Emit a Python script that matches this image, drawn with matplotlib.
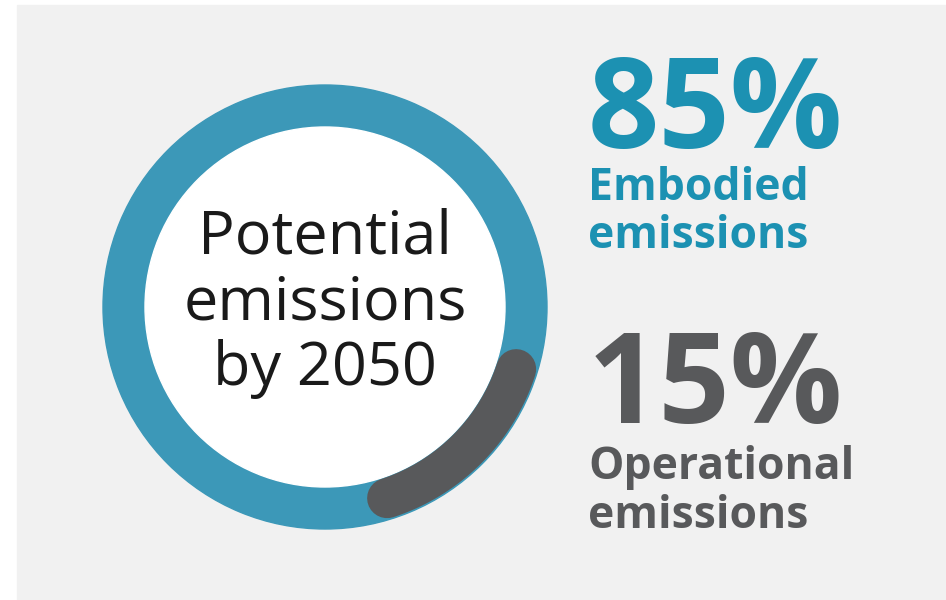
import numpy as np
import matplotlib
matplotlib.use('Agg')
import matplotlib.pyplot as plt
from matplotlib.patches import Wedge, Circle, Rectangle

# data
shares = [85, 15]
share_labels = ['85%', '15%']
share_names = [['Embodied', 'emissions'], ['Operational', 'emissions']]
centre_lines = ['Potential', 'emissions', 'by 2050']

BLUE_RING = '#3c98b8'
BLUE_TEXT = '#1c91b2'
GREY = '#58595b'
PANEL = '#f1f1f1'
FONT = 'Open Sans'

W, H = 946, 600
fig = plt.figure(figsize=(W / 100, H / 100), dpi=100)
ax = fig.add_axes([0, 0, 1, 1])
ax.set_xlim(0, W)
ax.set_ylim(H, 0)
ax.set_aspect('equal')
ax.axis('off')

ax.add_patch(Rectangle((17, 5), W - 17, H - 5, color=PANEL, zorder=0))

# ring
cx, cy = 325, 307
r_out, r_in = 222, 180
ax.add_patch(Wedge((cx, cy), r_out, 0, 360, width=r_out - r_in, color=BLUE_RING, zorder=1))
ax.add_patch(Circle((cx, cy), r_in, color='white', zorder=1))

# operational share as a rounded arc, centred on the lower-right diagonal
span = 360 * shares[1] / sum(shares)
theta = np.radians(np.linspace(-45 - span / 2, -45 + span / 2, 100))
r_mid = 201
lw = 40 * 72 / 100
ax.plot(cx + r_mid * np.cos(theta), cy - r_mid * np.sin(theta),
        color=GREY, lw=lw, solid_capstyle='round', zorder=2)

# centre label, one line at a time
for i, line in enumerate(centre_lines):
    ax.text(cx, 254 + 65.5 * i, line, ha='center', va='baseline', fontsize=44,
            family=FONT, color='#1a1a1a', zorder=3)

# right side figures
blocks = [(148, 200, BLUE_TEXT), (423, 479, GREY)]
for label, name, (y_big, y_name, col) in zip(share_labels, share_names, blocks):
    ax.text(588, y_big, label, ha='left', va='baseline', fontsize=90,
            family=FONT, fontweight='bold', color=col)
    for j, line in enumerate(name):
        ax.text(588, y_name + 48.5 * j, line, ha='left', va='baseline', fontsize=32,
                family=FONT, fontweight='bold', color=col)

plt.savefig('out.png', dpi=100)
